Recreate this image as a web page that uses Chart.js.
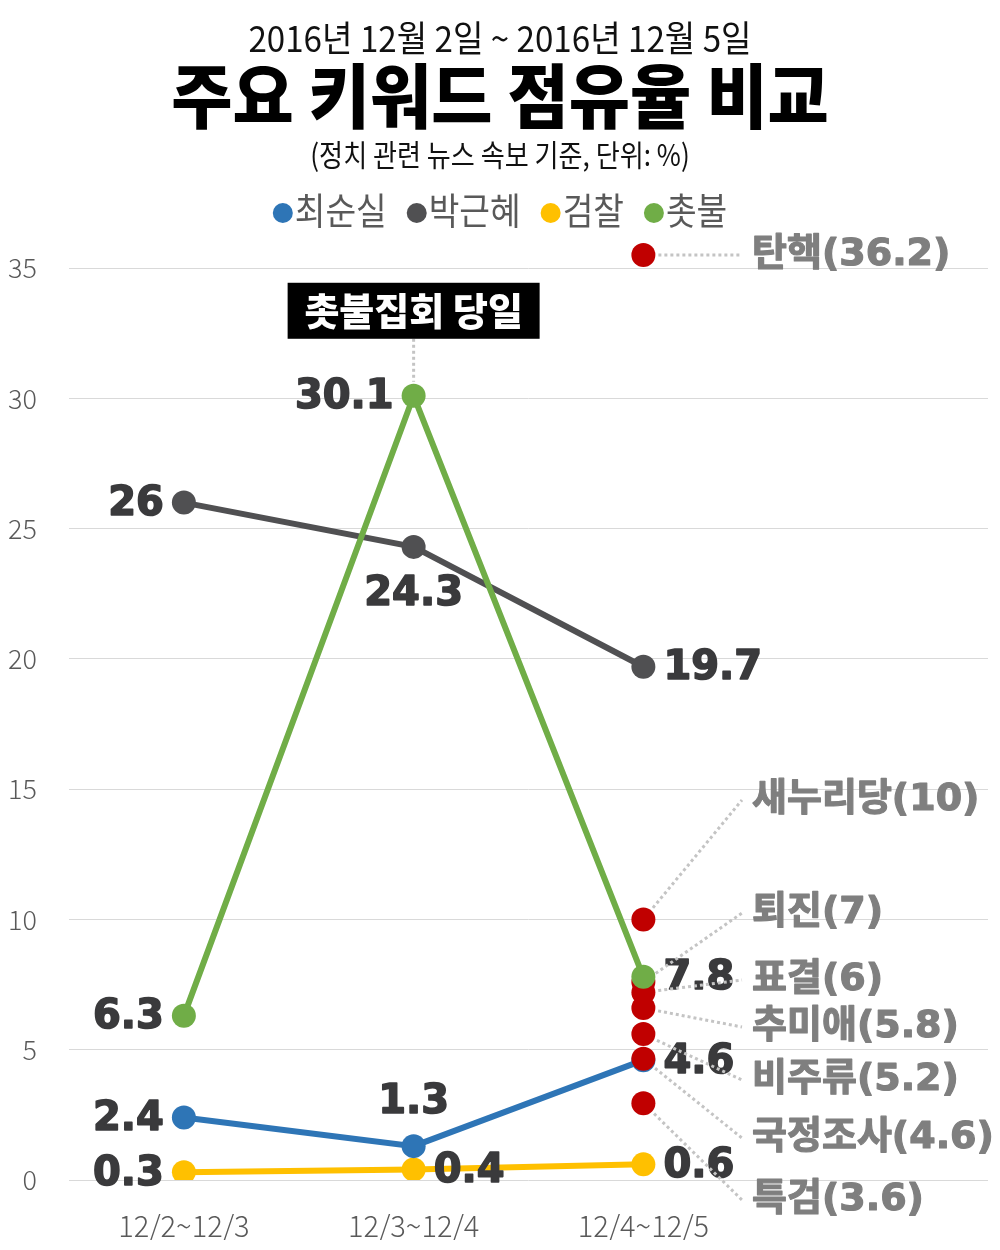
<!DOCTYPE html>
<html>
<head>
<meta charset="utf-8">
<script src="https://cdn.jsdelivr.net/npm/chart.js"></script>
<style>
  body { margin: 0; background: #fff; }
  #wrap { width: 1000px; height: 1250px; position: relative; }
</style>
</head>
<body>
<div id="wrap"><canvas id="chart"></canvas></div>
<script>
const categories = ["12/2~12/3", "12/3~12/4", "12/4~12/5"];
const choiValues = [2.4, 1.3, 4.6];     // 최순실
const parkValues = [26, 24.3, 19.7];    // 박근혜
const prosecValues = [0.3, 0.4, 0.6];   // 검찰
const candleValues = [6.3, 30.1, 7.8];  // 촛불
const yTicks = [0, 5, 10, 15, 20, 25, 30, 35];

// other keywords on 12/4~12/5 (label text, and where the dot sits in the picture)
const keywords = ["탄핵", "새누리당", "퇴진", "표결", "추미애", "비주류", "국정조사", "특검"];
const keywordShare = ["36.2", "10", "7", "6", "5.8", "5.2", "4.6", "3.6"];
const keywordDots = [35.5, 10, 7.6, 7.2, 6.6, 5.6, 4.65, 2.95];

// where each value label goes relative to its point
const choiPos = ["left", "above", "right"];
const parkPos = ["left", "below", "right"];
const prosecPos = ["left", "right", "right"];
const candlePos = ["left", "left", "right"];
const keywordLabelY = [255, 800, 913, 980, 1027, 1080, 1138, 1200];

const BLUE = "#2e75b6", GRAY = "#505052", YELLOW = "#ffc000", GREEN = "#70ad47", RED = "#c00000";
const KR = '"Noto Sans CJK KR", "Noto Sans", sans-serif';
const NUM = '"DejaVu Sans", "Noto Sans CJK KR", sans-serif';

function text(ctx, str, x, y, font, color, align, sx, heavy) {
  ctx.save();
  ctx.font = font;
  ctx.fillStyle = color;
  ctx.textAlign = align;
  ctx.textBaseline = "middle";
  ctx.translate(x, y);
  ctx.scale(sx || 1, 1);
  ctx.fillText(str, 0, 0);
  if (heavy) {
    // thicken the bold glyphs a bit
    ctx.strokeStyle = color;
    ctx.lineWidth = heavy;
    ctx.lineJoin = "round";
    ctx.strokeText(str, 0, 0);
  }
  ctx.restore();
}

const lineSeries = [
  { label: "촛불", data: candleValues, color: GREEN, pos: candlePos },
  { label: "최순실", data: choiValues, color: BLUE, pos: choiPos },
  { label: "박근혜", data: parkValues, color: GRAY, pos: parkPos },
  { label: "검찰", data: prosecValues, color: YELLOW, pos: prosecPos },
];

const datasets = lineSeries.map((s) => ({
  label: s.label,
  data: s.data,
  borderColor: s.color,
  backgroundColor: s.color,
  borderWidth: 6,
  pointRadius: 12,
  pointBorderWidth: 0,
  tension: 0,
}));
// red keyword dots go above blue/gray/yellow but under green
datasets.splice(1, 0, {
  label: "keywords",
  data: keywordDots.map((v) => ({ x: categories[2], y: v })),
  borderColor: RED,
  backgroundColor: RED,
  showLine: false,
  pointRadius: 12,
  pointBorderWidth: 0,
});

const overlay = {
  id: "overlay",
  afterDraw(chart) {
    const ctx = chart.ctx;
    // titles
    text(ctx, "2016년 12월 2일 ~ 2016년 12월 5일", 500, 38, "400 36px " + KR, "#111", "center", 0.92);
    text(ctx, "주요 키워드 점유율 비교", 500, 96, "900 70px " + KR, "#000", "center", 0.95);
    text(ctx, "(정치 관련 뉴스 속보 기준, 단위: %)", 500, 155, "400 30px " + KR, "#111", "center", 0.87);

    // legend
    const legend = [["최순실", BLUE], ["박근혜", GRAY], ["검찰", YELLOW], ["촛불", GREEN]];
    const sx = 0.9;
    ctx.save();
    ctx.font = "400 37px " + KR;
    const widths = legend.map((l) => ctx.measureText(l[0]).width * sx);
    ctx.restore();
    const gap = 20, r = 10;
    const total = widths.reduce((a, b) => a + b, 0) + legend.length * (2 * r + 2) + gap * (legend.length - 1);
    let lx = 500 - total / 2;
    legend.forEach((l, i) => {
      ctx.beginPath();
      ctx.arc(lx + r, 213, r, 0, Math.PI * 2);
      ctx.fillStyle = l[1];
      ctx.fill();
      text(ctx, l[0], lx + 2 * r + 2, 211, "400 37px " + KR, "#595959", "left", sx);
      lx += 2 * r + 2 + widths[i] + gap;
    });

    // value labels
    lineSeries.forEach((s) => {
      const idx = chart.data.datasets.findIndex((d) => d.label === s.label);
      const meta = chart.getDatasetMeta(idx);
      meta.data.forEach((pt, i) => {
        const str = String(s.data[i]);
        const f = "bold 40px " + NUM;
        const c = "#3a3a3c";
        const p = s.pos[i];
        if (p === "left") text(ctx, str, pt.x - 20, pt.y + 2, f, c, "right", 1, 1.6);
        else if (p === "right") text(ctx, str, pt.x + 20, pt.y + 2, f, c, "left", 1, 1.6);
        else if (p === "above") text(ctx, str, pt.x, pt.y - 44, f, c, "center", 1, 1.6);
        else text(ctx, str, pt.x, pt.y + 48, f, c, "center", 1, 1.6);
      });
    });

    // keyword labels with dotted leaders
    const kIdx = chart.data.datasets.findIndex((d) => d.label === "keywords");
    const kMeta = chart.getDatasetMeta(kIdx);
    kMeta.data.forEach((pt, i) => {
      const ly = keywordLabelY[i];
      const ang = Math.atan2(ly - pt.y, 742 - pt.x);
      ctx.save();
      ctx.strokeStyle = "#c4c4c4";
      ctx.lineWidth = 3;
      ctx.setLineDash([3, 3]);
      ctx.beginPath();
      ctx.moveTo(pt.x + 15 * Math.cos(ang), pt.y + 15 * Math.sin(ang));
      ctx.lineTo(742, ly);
      ctx.stroke();
      ctx.restore();
      text(ctx, keywords[i] + "(" + keywordShare[i] + ")", 752, ly, "bold 38px " + NUM, "#7f7f7f", "left", 1, 1.2);
    });

    // candle rally annotation
    const cIdx = chart.data.datasets.findIndex((d) => d.label === "촛불");
    const peak = chart.getDatasetMeta(cIdx).data[1];
    const boxBottom = peak.y - 57;
    ctx.save();
    ctx.strokeStyle = "#c4c4c4";
    ctx.lineWidth = 3;
    ctx.setLineDash([3, 3]);
    ctx.beginPath();
    ctx.moveTo(peak.x, boxBottom);
    ctx.lineTo(peak.x, peak.y - 14);
    ctx.stroke();
    ctx.restore();
    ctx.fillStyle = "#000";
    ctx.fillRect(peak.x - 126, boxBottom - 56, 252, 56);
    text(ctx, "촛불집회 당일", peak.x, boxBottom - 28, "900 38px " + KR, "#fff", "center");
  },
};

new Chart(document.getElementById("chart"), {
  type: "line",
  data: { labels: categories.concat([""]), datasets: datasets },
  options: {
    responsive: true,
    maintainAspectRatio: false,
    animation: false,
    layout: { padding: { top: 216, left: 6, right: 7, bottom: 10 } },
    plugins: { legend: { display: false }, title: { display: false }, tooltip: { enabled: false } },
    scales: {
      x: {
        offset: true,
        afterFit: (scale) => { scale.height = 60; },
        grid: { display: false, drawTicks: false },
        border: { display: false },
        ticks: { color: "#595959", padding: 29, maxRotation: 0, font: { family: KR, size: 29, weight: 300 } },
      },
      y: {
        min: 0,
        max: 37,
        afterBuildTicks: (scale) => {
          scale.ticks = yTicks.map((v) => ({ value: v }));
        },
        afterFit: (scale) => { scale.width = 63; },
        grid: { color: "#d9d9d9", lineWidth: 1, drawTicks: false },
        border: { display: false },
        ticks: { color: "#595959", padding: 32, font: { family: KR, size: 27, weight: 300 } },
      },
    },
  },
  plugins: [overlay],
});
</script>
</body>
</html>
